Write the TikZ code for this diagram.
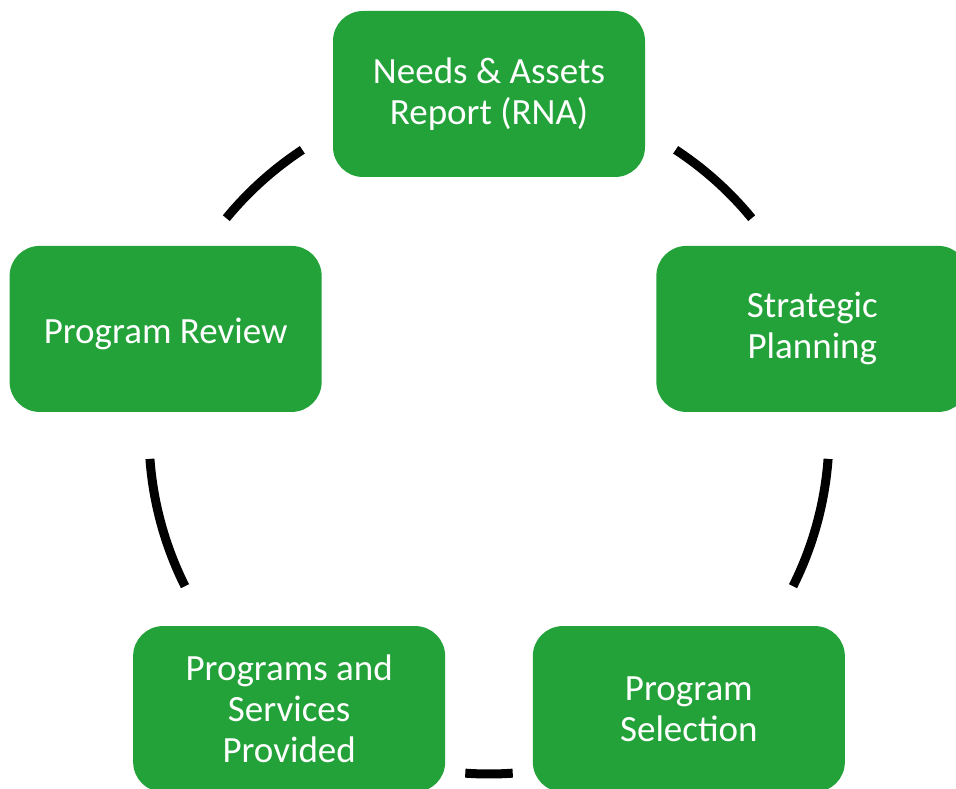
\documentclass[tikz,border=0pt]{standalone}
\usepackage{fontspec}
\setmainfont{Carlito}
\usepackage{tikz}
\usetikzlibrary{calc, positioning}
\definecolor{stagegreen}{RGB}{36,162,58}

\begin{document}
\begin{tikzpicture}[x=1pt, y=1pt]
        % Estilos para las etapas y los arcos
        \tikzstyle{stage} = [rectangle, fill=stagegreen, text=white, rounded corners=30pt, minimum width=312pt, minimum height=166pt, inner sep=0pt, align=center, font=\fontsize{37}{41}\selectfont, execute at begin node={\rule{0pt}{36pt}}]
        \tikzstyle{ring} = [draw, line width=9pt]

        \useasboundingbox (0,0) rectangle (956,789);

        % Nodes
        \coordinate (hub) at (489,355);
        \node [stage] (needs) at ($(hub)+(90:340pt)$) {Needs \& Assets\\Report (RNA)};
        \node [stage] (strategic) at ($(hub)+(18:340pt)$) {Strategic\\Planning};
        \node [stage] (selection) at ($(hub)+(-54:340pt)$) {Program\\Selection};
        \node [stage] (provided) at ($(hub)+(234:340pt)$) {Programs and\\Services\\Provided};
        \node [stage] (review) at ($(hub)+(162:340pt)$) {Program Review};

        % Lines
        \draw [ring] ($(hub)+(39.4:340pt)$) arc[start angle=39.4, end angle=56.7, radius=340pt]; % needs - strategic
        \draw [ring] ($(hub)+(-26.6:340pt)$) arc[start angle=-26.6, end angle=-4.2, radius=340pt]; % strategic - selection
        \draw [ring] ($(hub)+(266:340pt)$) arc[start angle=266, end angle=274, radius=340pt]; % selection - provided
        \draw [ring] ($(hub)+(184.2:340pt)$) arc[start angle=184.2, end angle=206.6, radius=340pt]; % provided - review
        \draw [ring] ($(hub)+(123.3:340pt)$) arc[start angle=123.3, end angle=140.6, radius=340pt]; % review - needs

\end{tikzpicture}
\end{document}
